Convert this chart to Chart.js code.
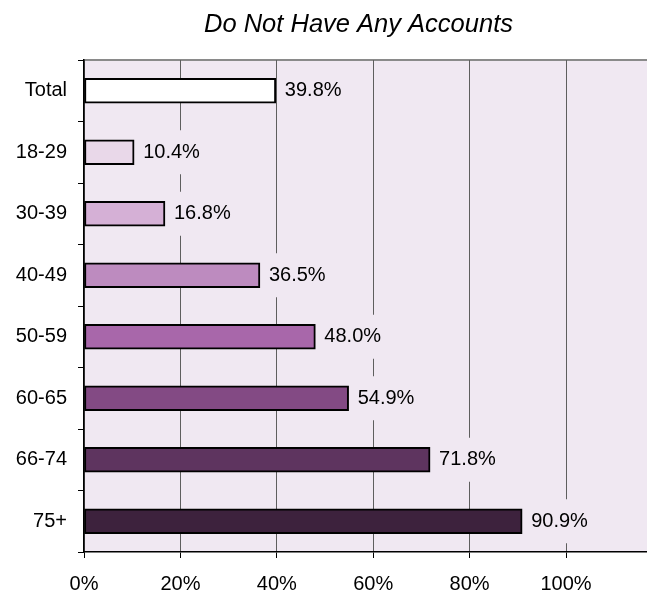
<!DOCTYPE html>
<html>
<head>
<meta charset="utf-8">
<title>Do Not Have Any Accounts</title>
<script src="https://cdn.jsdelivr.net/npm/chart.js@4/dist/chart.umd.min.js"></script>
<style>
  html, body { margin: 0; padding: 0; background: #fff; }
  canvas { display: block; }
</style>
</head>
<body>
<canvas id="grafico" width="647" height="593"></canvas>
<script>
// data
const categorias = ['Total', '18-29', '30-39', '40-49', '50-59', '60-65', '66-74', '75+'];
const valores = [39.8, 10.4, 16.8, 36.5, 48.0, 54.9, 71.8, 90.9];
const cores = ['#ffffff', '#e9d8e9', '#d5b0d6', '#bd8bbf', '#a867aa', '#834a84', '#5e345f', '#3d223d'];
const ticksX = [0, 20, 40, 60, 80, 100];
const titulo = 'Do Not Have Any Accounts';

const fonte = '"Liberation Sans", Arial, sans-serif';
const fundoPlot = '#f0e8f2';

// background, top border and title
const fundo = {
    id: 'fundo',
    beforeDraw(chart) {
        const { ctx, chartArea: a } = chart;
        ctx.save();
        ctx.fillStyle = fundoPlot;
        ctx.fillRect(a.left, a.top, a.right - a.left, a.bottom - a.top);
        ctx.strokeStyle = '#8a8a8a';
        ctx.lineWidth = 2;
        ctx.beginPath();
        ctx.moveTo(a.left, a.top);
        ctx.lineTo(a.right, a.top);
        ctx.stroke();
        ctx.fillStyle = '#000';
        ctx.font = 'italic 25.5px ' + fonte;
        ctx.textAlign = 'center';
        ctx.textBaseline = 'middle';
        ctx.fillText(titulo, (a.left + a.right) / 2 - 7, 25);
        ctx.restore();
    }
};

// value labels, with a box of the plot colour behind (hides the grid lines)
const rotulos = {
    id: 'rotulos',
    afterDatasetsDraw(chart) {
        const { ctx } = chart;
        const meta = chart.getDatasetMeta(0);
        ctx.save();
        ctx.font = '20px ' + fonte;
        ctx.textBaseline = 'middle';
        meta.data.forEach((bar, i) => {
            const txt = valores[i].toFixed(1) + '%';
            const w = ctx.measureText(txt).width;
            const x = bar.x + 9;
            ctx.fillStyle = fundoPlot;
            ctx.fillRect(x - 4, bar.y - 22, w + 8, 44);
            ctx.fillStyle = '#000';
            ctx.fillText(txt, x, bar.y);
        });
        ctx.restore();
    }
};

new Chart(document.getElementById('grafico'), {
    type: 'bar',
    data: {
        labels: categorias,
        datasets: [{
            data: valores,
            backgroundColor: cores,
            borderColor: '#000',
            borderWidth: 2,
            borderSkipped: false,
            barThickness: 25
        }]
    },
    options: {
        indexAxis: 'y',
        responsive: false,
        animation: false,
        layout: { padding: { top: 60, right: 0, bottom: 0, left: 0 } },
        plugins: {
            legend: { display: false },
            title: { display: false },
            tooltip: { enabled: false }
        },
        scales: {
            x: {
                min: 0,
                max: 116.8,
                afterBuildTicks: (scale) => {
                    scale.ticks = ticksX.map(v => ({ value: v }));
                },
                afterFit: (scale) => { scale.height = 41; },
                ticks: {
                    color: '#000',
                    font: { family: fonte, size: 20 },
                    padding: 14,
                    maxRotation: 0,
                    callback: (v) => v + '%'
                },
                grid: {
                    color: '#5e5e5e',
                    lineWidth: 1,
                    tickColor: '#000',
                    tickLength: 6
                },
                border: { color: '#000', width: 1.5 }
            },
            y: {
                afterFit: (scale) => { scale.width = 84; },
                ticks: {
                    color: '#000',
                    font: { family: fonte, size: 20 },
                    padding: 11
                },
                grid: {
                    drawOnChartArea: false,
                    offset: true,
                    tickColor: '#000',
                    tickLength: 6
                },
                border: { color: '#000', width: 1.5 }
            }
        }
    },
    plugins: [fundo, rotulos]
});
</script>
</body>
</html>
